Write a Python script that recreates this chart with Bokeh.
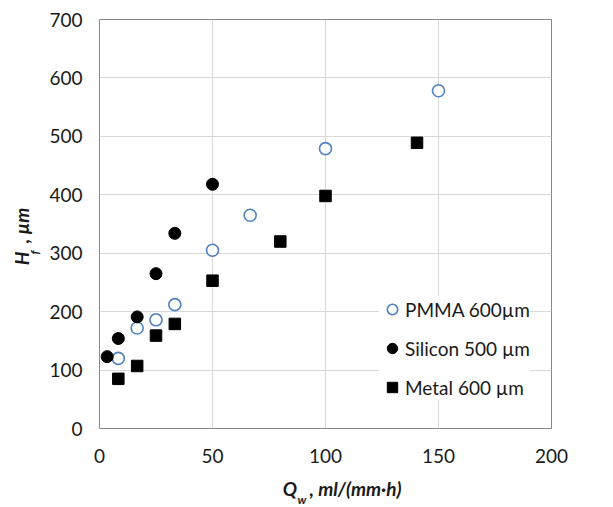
from bokeh.plotting import figure
from bokeh.models import Range1d, Label, Legend, LegendItem, FixedTicker
from bokeh.embed import file_html
from bokeh.resources import INLINE
import math

# ---- data ----
pmma_q = [8.33, 16.67, 25, 33.33, 50, 66.67, 100, 150]
pmma_h = [120, 172, 186, 212, 305, 365, 479, 578]

silicon_q = [3.4, 8.33, 16.67, 25, 33.33, 50]
silicon_h = [123, 154, 191, 265, 334, 418]

metal_q = [8.33, 16.67, 25, 33.33, 50, 80, 100, 140.5]
metal_h = [85, 107, 159, 179, 253, 320, 398, 489]

x_ticks = [0, 50, 100, 150, 200]
y_ticks = [0, 100, 200, 300, 400, 500, 600, 700]

series_names = ["PMMA 600µm", "Silicon 500 µm", "Metal 600 µm"]

FONT = "Lato"
FS = "19px"
TXT = "#1a1a1a"
NB = "\u00a0"

p = figure(width=613, height=507, output_backend="svg", toolbar_location=None,
           x_range=Range1d(0, 200), y_range=Range1d(0, 700),
           min_border_left=99, min_border_right=62, min_border_top=19,
           min_border_bottom=79)
p.background_fill_color = "white"
p.border_fill_color = "white"
p.outline_line_color = "#888888"
p.outline_line_width = 1

for ax in (p.xaxis[0], p.yaxis[0]):
    ax.axis_line_color = None
    ax.major_tick_line_color = None
    ax.minor_tick_line_color = None
    ax.major_tick_out = 0
    ax.major_tick_in = 0
    ax.minor_tick_out = 0
    ax.major_label_text_font = FONT
    ax.major_label_text_font_size = FS
    ax.major_label_text_color = TXT
    ax.axis_label_text_font = FONT
    ax.axis_label_text_font_size = FS
    ax.axis_label_text_font_style = "bold italic"
    ax.axis_label_text_color = TXT
p.xaxis[0].ticker = FixedTicker(ticks=x_ticks)
p.yaxis[0].ticker = FixedTicker(ticks=y_ticks)
p.xaxis[0].major_label_standoff = 20
p.yaxis[0].major_label_standoff = 17

# main title texts (gap left for the subscript, padded to sit where the reference has them)
p.xaxis[0].axis_label = NB * 8 + "Q" + NB * 3 + ", ml/(mm·h)"
p.xaxis[0].axis_label_standoff = 11
p.yaxis[0].axis_label = "H" + NB * 2 + ", µm" + NB * 6
p.yaxis[0].axis_label_standoff = 13

p.xgrid[0].grid_line_color = "#d9d9d9"
p.ygrid[0].grid_line_color = "#d9d9d9"
p.xgrid[0].ticker = FixedTicker(ticks=x_ticks)
p.ygrid[0].ticker = FixedTicker(ticks=y_ticks)

r1 = p.scatter(pmma_q, pmma_h, marker="circle", size=12, fill_color="white",
               line_color="#4F81BD", line_width=1.6)
r2 = p.scatter(silicon_q, silicon_h, marker="circle", size=12, fill_color="black",
               line_color="black")
r3 = p.scatter(metal_q, metal_h, marker="square", size=11.5, fill_color="black",
               line_color="black")

legend = Legend(items=[LegendItem(label=series_names[0], renderers=[r1]),
                       LegendItem(label=series_names[1], renderers=[r2]),
                       LegendItem(label=series_names[2], renderers=[r3])],
                location=(280, 28), padding=6, margin=0,
                border_line_color=None, background_fill_color="white",
                background_fill_alpha=1.0, glyph_width=26, glyph_height=26,
                label_height=26, spacing=13, label_standoff=0,
                label_text_font=FONT, label_text_font_size=FS,
                label_text_color=TXT)
p.add_layout(legend)

# ---- subscripts (outside the frame, in side panels so they are not clipped) ----
sstyle = dict(x_units="data", y_units="data", text_font=FONT,
              text_font_style="bold italic", text_color=TXT,
              text_baseline="alphabetic", text_font_size="12px",
              text_align="left")
p.add_layout(Label(x=87.6, y=-121.5, text="w", **sstyle), "above")
p.add_layout(Label(x=-28.8, y=297.8, text="f", angle=math.pi / 2, **sstyle), "right")

open("out.html", "w").write(file_html(p, INLINE))
